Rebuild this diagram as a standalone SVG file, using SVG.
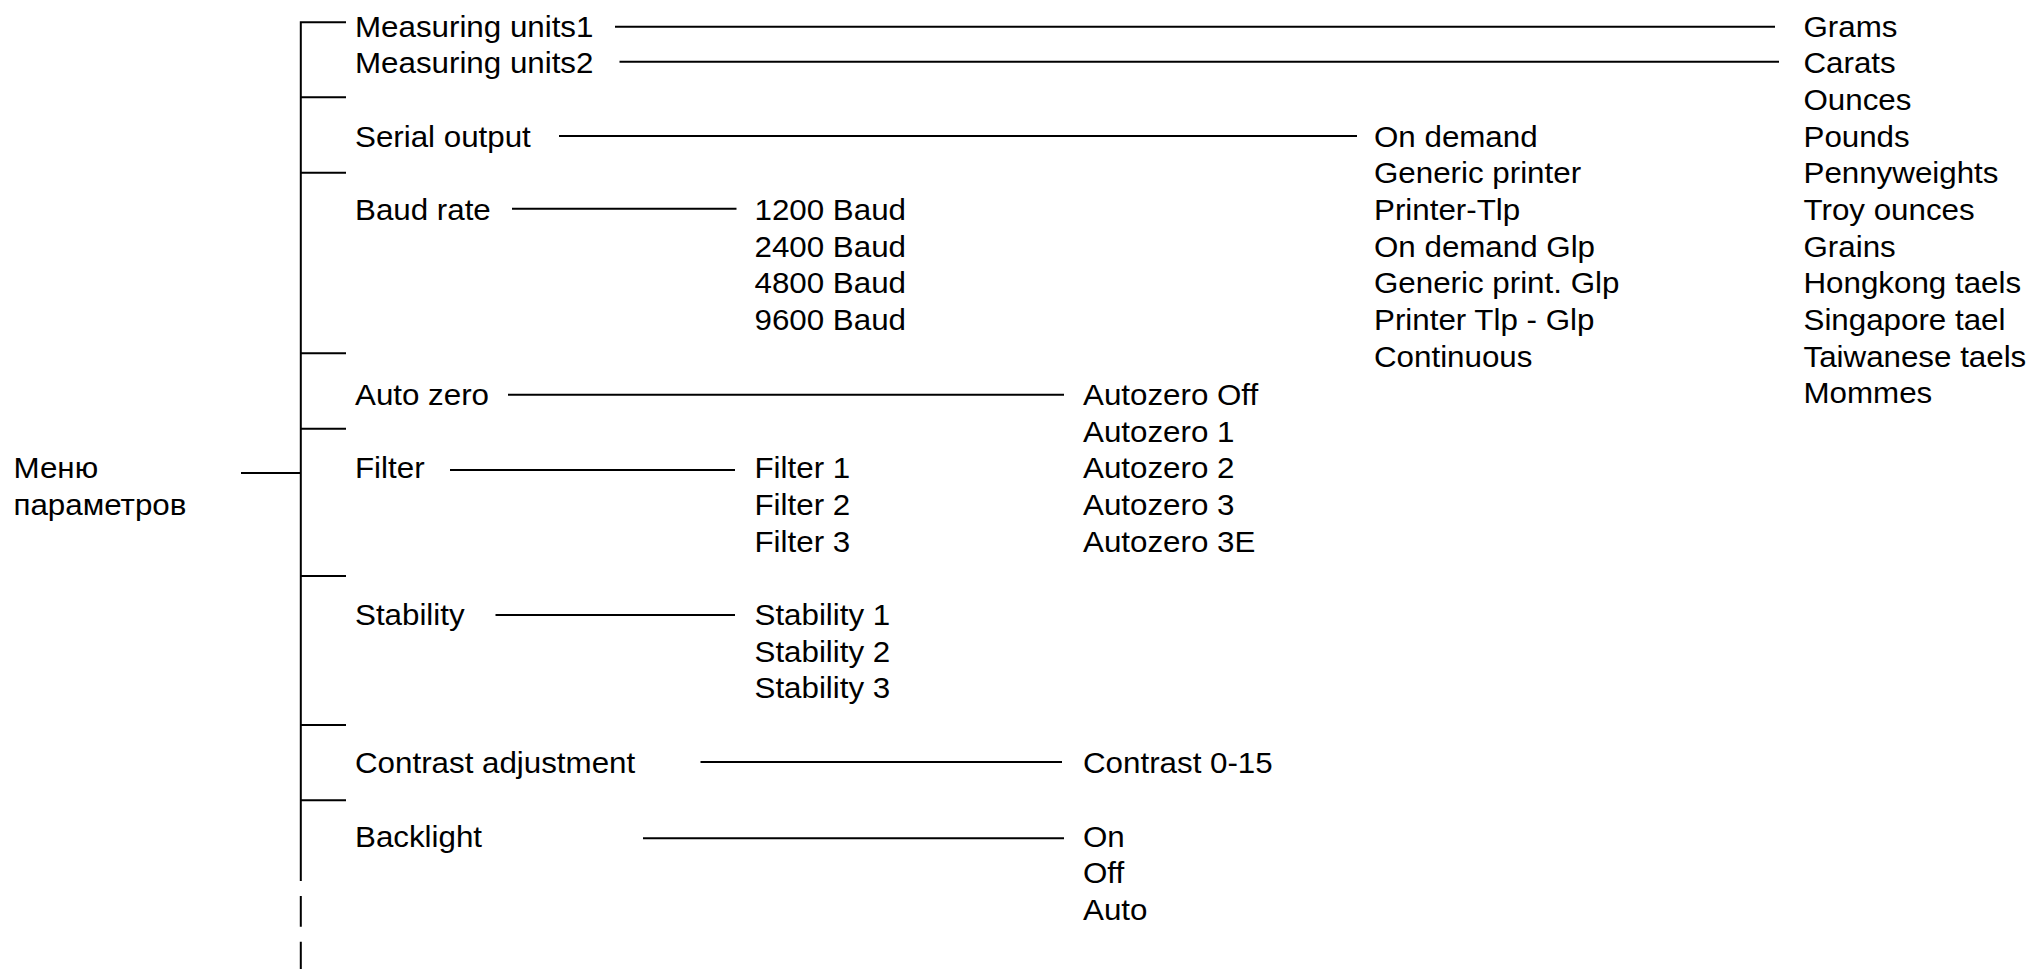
<svg xmlns="http://www.w3.org/2000/svg" width="2036" height="969" viewBox="0 0 2036 969">
<style>
  text { font-family: "Liberation Sans", Arial, sans-serif; font-size: 29px; fill: #000; }
  .ln { stroke: #000; stroke-width: 2; fill: none; }
</style>
<rect x="0" y="0" width="2036" height="969" fill="#fff"/>
<g id="connectors">
  <path class="ln" d="M346 22.3 H300.8 V881 M300.8 896 V926.7 M300.8 941.7 V969"/>
  <path class="ln" d="M300.8 97.3 H346 M300.8 172.7 H346 M300.8 353.3 H346 M300.8 428.7 H346 M300.8 576 H346 M300.8 725 H346 M300.8 800.3 H346"/>
  <path class="ln" d="M241 473 H300.8"/>
  <path class="ln" d="M615 26.7 H1775"/>
  <path class="ln" d="M619.5 61.7 H1779"/>
  <path class="ln" d="M559 136 H1357"/>
  <path class="ln" d="M512 208.7 H736.5"/>
  <path class="ln" d="M508 394.7 H1064"/>
  <path class="ln" d="M450 470 H735"/>
  <path class="ln" d="M495.5 615 H735"/>
  <path class="ln" d="M700.5 762 H1062"/>
  <path class="ln" d="M643 838.3 H1064"/>
</g>
<g id="root">
  <text transform="translate(13.5 478.3) scale(1.08 1)">Меню</text>
  <text transform="translate(13.5 515) scale(1.08 1)">параметров</text>
</g>
<g id="measuring-units1"><text transform="translate(355 36.7) scale(1.08 1)">Measuring units1</text></g>
<g id="measuring-units2"><text transform="translate(355 73.3) scale(1.08 1)">Measuring units2</text></g>
<g id="serial-output"><text transform="translate(355 146.7) scale(1.08 1)">Serial output</text></g>
<g id="baud-rate"><text transform="translate(355 220) scale(1.08 1)">Baud rate</text></g>
<g id="auto-zero"><text transform="translate(355 405.3) scale(1.08 1)">Auto zero</text></g>
<g id="filter"><text transform="translate(355 478.3) scale(1.08 1)">Filter</text></g>
<g id="stability"><text transform="translate(355 625) scale(1.08 1)">Stability</text></g>
<g id="contrast-adjustment"><text transform="translate(355 773.3) scale(1.08 1)">Contrast adjustment</text></g>
<g id="backlight"><text transform="translate(355 846.7) scale(1.08 1)">Backlight</text></g>
<g id="units-list">
  <text transform="translate(1803.5 36.7) scale(1.08 1)">Grams</text>
  <text transform="translate(1803.5 73.3) scale(1.08 1)">Carats</text>
  <text transform="translate(1803.5 110) scale(1.08 1)">Ounces</text>
  <text transform="translate(1803.5 146.7) scale(1.08 1)">Pounds</text>
  <text transform="translate(1803.5 183.3) scale(1.08 1)">Pennyweights</text>
  <text transform="translate(1803.5 220) scale(1.08 1)">Troy ounces</text>
  <text transform="translate(1803.5 256.7) scale(1.08 1)">Grains</text>
  <text transform="translate(1803.5 293.3) scale(1.08 1)">Hongkong taels</text>
  <text transform="translate(1803.5 330) scale(1.08 1)">Singapore tael</text>
  <text transform="translate(1803.5 366.7) scale(1.08 1)">Taiwanese taels</text>
  <text transform="translate(1803.5 403.3) scale(1.08 1)">Mommes</text>
</g>
<g id="serial-list">
  <text transform="translate(1374 146.7) scale(1.08 1)">On demand</text>
  <text transform="translate(1374 183.3) scale(1.08 1)">Generic printer</text>
  <text transform="translate(1374 220) scale(1.08 1)">Printer-Tlp</text>
  <text transform="translate(1374 256.7) scale(1.08 1)">On demand Glp</text>
  <text transform="translate(1374 293.3) scale(1.08 1)">Generic print. Glp</text>
  <text transform="translate(1374 330) scale(1.08 1)">Printer Tlp - Glp</text>
  <text transform="translate(1374 366.7) scale(1.08 1)">Continuous</text>
</g>
<g id="baud-list">
  <text transform="translate(754.5 220) scale(1.08 1)">1200 Baud</text>
  <text transform="translate(754.5 256.7) scale(1.08 1)">2400 Baud</text>
  <text transform="translate(754.5 293.3) scale(1.08 1)">4800 Baud</text>
  <text transform="translate(754.5 330) scale(1.08 1)">9600 Baud</text>
</g>
<g id="autozero-list">
  <text transform="translate(1083 405.3) scale(1.08 1)">Autozero Off</text>
  <text transform="translate(1083 442) scale(1.08 1)">Autozero 1</text>
  <text transform="translate(1083 478.3) scale(1.08 1)">Autozero 2</text>
  <text transform="translate(1083 515) scale(1.08 1)">Autozero 3</text>
  <text transform="translate(1083 551.7) scale(1.08 1)">Autozero 3E</text>
</g>
<g id="filter-list">
  <text transform="translate(754.5 478.3) scale(1.08 1)">Filter 1</text>
  <text transform="translate(754.5 515) scale(1.08 1)">Filter 2</text>
  <text transform="translate(754.5 551.7) scale(1.08 1)">Filter 3</text>
</g>
<g id="stability-list">
  <text transform="translate(754.5 625) scale(1.08 1)">Stability 1</text>
  <text transform="translate(754.5 661.7) scale(1.08 1)">Stability 2</text>
  <text transform="translate(754.5 698.3) scale(1.08 1)">Stability 3</text>
</g>
<g id="contrast-list">
  <text transform="translate(1083 773.3) scale(1.08 1)">Contrast 0-15</text>
</g>
<g id="backlight-list">
  <text transform="translate(1083 846.7) scale(1.08 1)">On</text>
  <text transform="translate(1083 883.3) scale(1.08 1)">Off</text>
  <text transform="translate(1083 920) scale(1.08 1)">Auto</text>
</g>
</svg>
